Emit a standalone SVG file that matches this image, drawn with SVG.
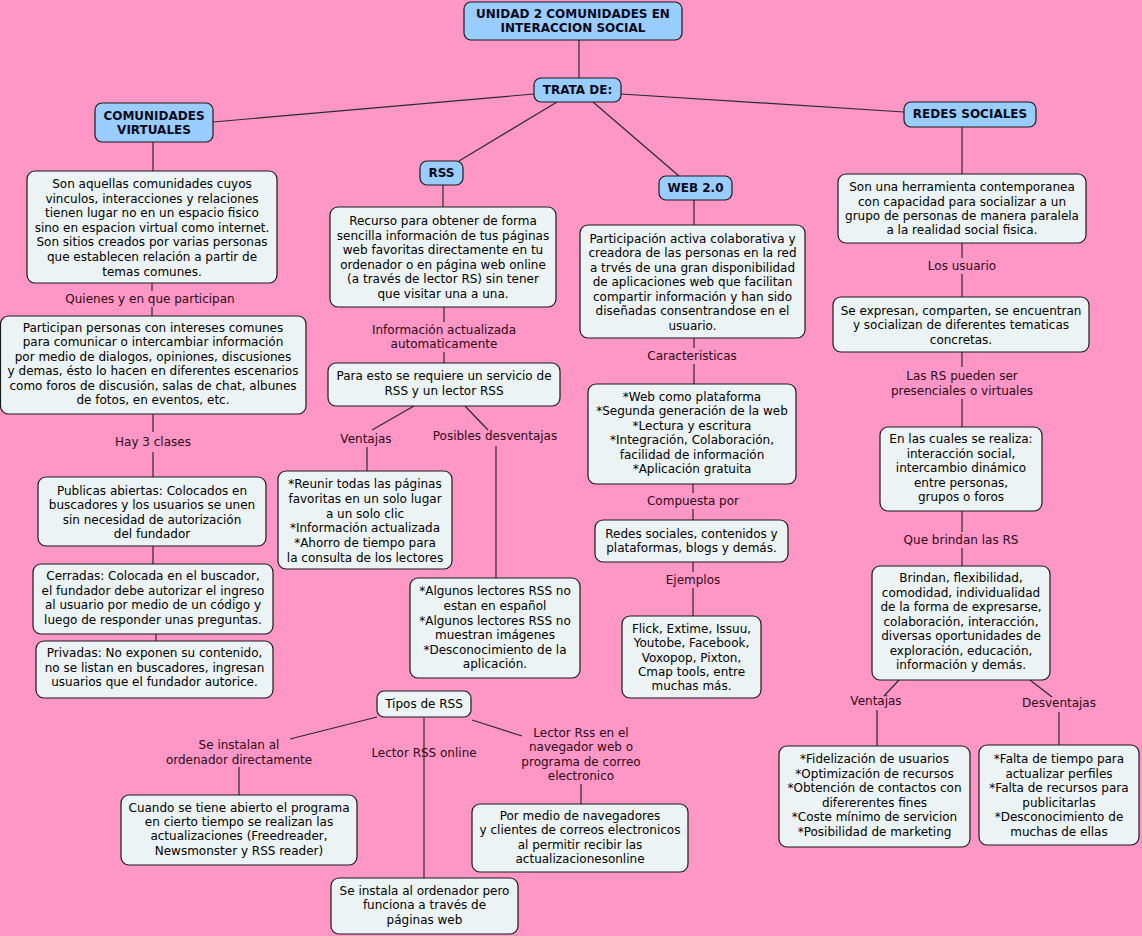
<svg xmlns="http://www.w3.org/2000/svg" width="1142" height="936" viewBox="0 0 1142 936">
<style>
.bg{fill:#fe96c6}
.n{fill:#ecf3f5;stroke:#1a1a1a;stroke-width:1.2}
.b{fill:#99ccff;stroke:#1a1a1a;stroke-width:1.2}
text{font-family:"DejaVu Sans",Verdana,sans-serif;font-size:12px;text-anchor:middle}
.t{fill:#000}
.h{fill:#0a0a1a;font-weight:bold}
.l{fill:#2e0a16}
.c{fill:none;stroke:#2a2a2a;stroke-width:1.2}
</style>
<rect class="bg" x="0" y="0" width="1142" height="936"/>
<g id="connectors">
<path class="c" d="M579 40V78 M534 94L213 122 M621 94L904 112 M557 102L459 161 M593 102L679 176"/>
<path class="c" d="M153 142V171 M152 283V291 M152 307V316 M153 414V432 M153 452V477 M153 546V564 M156 634V641"/>
<path class="c" d="M443 185V207 M444 307V322 M444 352V363 M414 406L372 430 M367 447V471 M465 406L488 430 M496 446V578"/>
<path class="c" d="M377 717L290 739 M239 767V795 M424 718V878 M472 720L522 736 M581 784V804"/>
<path class="c" d="M694 200V225 M694 338V348 M694 364V384 M693 484V493 M693 509V520 M693 562V572 M693 588V616"/>
<path class="c" d="M962 127V174 M962 243V258 M962 274V297 M962 352V367 M962 399V427 M962 511V532 M962 548V566 M899 680L884 696 M877 710V746 M1030 680L1052 697 M1059 712V745"/>
<g id="link-labels">
<text class="l" x="150" y="303">Quienes y en que participan</text>
<text class="l" x="153" y="446">Hay 3 clases</text>
<text class="l" x="444" y="334">Información actualizada</text>
<text class="l" x="444" y="348">automaticamente</text>
<text class="l" x="366" y="443">Ventajas</text>
<text class="l" x="495" y="440">Posibles desventajas</text>
<text class="l" x="239" y="749">Se instalan al</text>
<text class="l" x="239" y="764">ordenador directamente</text>
<text class="l" x="424" y="757">Lector RSS online</text>
<text class="l" x="581" y="737">Lector Rss en el</text>
<text class="l" x="581" y="751">navegador web o</text>
<text class="l" x="581" y="766">programa de correo</text>
<text class="l" x="581" y="780">electronico</text>
<text class="l" x="692" y="360">Caracteristicas</text>
<text class="l" x="693" y="505">Compuesta por</text>
<text class="l" x="693" y="584">Ejemplos</text>
<text class="l" x="962" y="270">Los usuario</text>
<text class="l" x="962" y="380">Las RS pueden ser</text>
<text class="l" x="962" y="395">presenciales o virtuales</text>
<text class="l" x="961" y="544">Que brindan las RS</text>
<text class="l" x="876" y="705">Ventajas</text>
<text class="l" x="1059" y="707">Desventajas</text>
</g>
</g>
<g id="unidad"><rect class="b" x="464" y="2" width="218" height="38" rx="7"/><text class="h" x="573" y="18">UNIDAD 2 COMUNIDADES EN</text><text class="h" x="573" y="32">INTERACCION SOCIAL</text></g>
<g id="trata"><rect class="b" x="534" y="78" width="87" height="24" rx="7"/><text class="h" x="577.5" y="94">TRATA DE:</text></g>
<g id="comunidades"><rect class="b" x="95" y="103" width="118" height="39" rx="7"/><text class="h" x="154" y="120">COMUNIDADES</text><text class="h" x="154" y="134">VIRTUALES</text></g>
<g id="redes"><rect class="b" x="904" y="102" width="132" height="25" rx="7"/><text class="h" x="970" y="118">REDES SOCIALES</text></g>
<g id="rss"><rect class="b" x="420" y="161" width="43" height="24" rx="7"/><text class="h" x="441.5" y="177">RSS</text></g>
<g id="web"><rect class="b" x="659" y="176" width="73" height="24" rx="7"/><text class="h" x="695.5" y="192">WEB 2.0</text></g>

<g id="cv-desc"><rect class="n" x="27" y="171" width="250" height="112" rx="8"/>
<text class="t" x="152"><tspan x="152" y="188">Son aquellas comunidades cuyos</tspan><tspan x="152" y="203">vinculos, interacciones y relaciones</tspan><tspan x="152" y="217">tienen lugar no en un espacio fisico</tspan><tspan x="152" y="232">sino en espacion virtual como internet.</tspan><tspan x="152" y="246">Son sitios creados por varias personas</tspan><tspan x="152" y="261">que establecen relación a partir de</tspan><tspan x="152" y="276">temas comunes.</tspan></text></g>
<g id="participan"><rect class="n" x="0.5" y="316" width="305.5" height="98" rx="8"/>
<text class="t"><tspan x="153" y="332">Participan personas con intereses comunes</tspan><tspan x="153" y="346">para comunicar o intercambiar información</tspan><tspan x="153" y="361">por medio de dialogos, opiniones, discusiones</tspan><tspan x="153" y="375">y demas, ésto lo hacen en diferentes escenarios</tspan><tspan x="153" y="390">como foros de discusión, salas de chat, albunes</tspan><tspan x="153" y="404">de fotos, en eventos, etc.</tspan></text></g>
<g id="publicas"><rect class="n" x="38" y="477" width="228" height="69" rx="8"/>
<text class="t"><tspan x="152" y="495">Publicas abiertas: Colocados en</tspan><tspan x="152" y="509">buscadores y los usuarios se unen</tspan><tspan x="152" y="524">sin necesidad de autorización</tspan><tspan x="152" y="538">del fundador</tspan></text></g>
<g id="cerradas"><rect class="n" x="33" y="564" width="240" height="70" rx="8"/>
<text class="t"><tspan x="153" y="580">Cerradas: Colocada en el buscador,</tspan><tspan x="153" y="595">el fundador debe autorizar el ingreso</tspan><tspan x="153" y="609">al usuario por medio de un código y</tspan><tspan x="153" y="624">luego de responder unas preguntas.</tspan></text></g>
<g id="privadas"><rect class="n" x="36" y="641" width="237" height="57" rx="8"/>
<text class="t"><tspan x="154.5" y="657">Privadas: No exponen su contenido,</tspan><tspan x="154.5" y="672">no se listan en buscadores, ingresan</tspan><tspan x="154.5" y="686">usuarios que el fundador autorice.</tspan></text></g>

<g id="rss-desc"><rect class="n" x="330" y="207" width="226" height="100" rx="8"/>
<text class="t"><tspan x="443" y="225">Recurso para obtener de forma</tspan><tspan x="443" y="240">sencilla información de tus páginas</tspan><tspan x="443" y="254">web favoritas directamente en tu</tspan><tspan x="443" y="269">ordenador o en página web online</tspan><tspan x="443" y="283">(a través de lector RS) sin tener</tspan><tspan x="443" y="298">que visitar una a una.</tspan></text></g>
<g id="para-esto"><rect class="n" x="328" y="363" width="232" height="43" rx="8"/>
<text class="t"><tspan x="444" y="380">Para esto se requiere un servicio de</tspan><tspan x="444" y="395">RSS y un lector RSS</tspan></text></g>
<g id="reunir"><rect class="n" x="278" y="471" width="174" height="98" rx="8"/>
<text class="t"><tspan x="365" y="488">*Reunir todas las páginas</tspan><tspan x="365" y="503">favoritas en un solo lugar</tspan><tspan x="365" y="518">a un solo clic</tspan><tspan x="365" y="532">*Información actualizada</tspan><tspan x="365" y="547">*Ahorro de tiempo para</tspan><tspan x="365" y="562">la consulta de los lectores</tspan></text></g>
<g id="algunos"><rect class="n" x="410" y="578" width="170" height="100" rx="8"/>
<text class="t"><tspan x="495" y="595">*Algunos lectores RSS no</tspan><tspan x="495" y="610">estan en español</tspan><tspan x="495" y="625">*Algunos lectores RSS no</tspan><tspan x="495" y="639">muestran imágenes</tspan><tspan x="495" y="654">*Desconocimiento de la</tspan><tspan x="495" y="668">aplicación.</tspan></text></g>
<g id="tipos"><rect class="n" x="377" y="691" width="94" height="26" rx="7"/><text class="t" x="424" y="708">Tipos de RSS</text></g>
<g id="cuando"><rect class="n" x="121" y="795" width="236" height="70" rx="8"/>
<text class="t"><tspan x="239" y="812">Cuando se tiene abierto el programa</tspan><tspan x="239" y="826">en cierto tiempo se realizan las</tspan><tspan x="239" y="840">actualizaciones (Freedreader,</tspan><tspan x="239" y="855">Newsmonster y RSS reader)</tspan></text></g>
<g id="se-instala"><rect class="n" x="331" y="878" width="187" height="56" rx="8"/>
<text class="t"><tspan x="424.5" y="895">Se instala al ordenador pero</tspan><tspan x="424.5" y="909">funciona a través de</tspan><tspan x="424.5" y="924">páginas web</tspan></text></g>
<g id="por-medio"><rect class="n" x="472" y="804" width="216" height="68" rx="8"/>
<text class="t"><tspan x="580" y="820">Por medio de navegadores</tspan><tspan x="580" y="834">y clientes de correos electronicos</tspan><tspan x="580" y="849">al permitir recibir las</tspan><tspan x="580" y="863">actualizacionesonline</tspan></text></g>

<g id="web-desc"><rect class="n" x="580" y="225" width="225" height="113" rx="8"/>
<text class="t"><tspan x="692.5" y="243">Participación activa colaborativa y</tspan><tspan x="692.5" y="257">creadora de las personas en la red</tspan><tspan x="692.5" y="272">a trvés de una gran disponibilidad</tspan><tspan x="692.5" y="286">de aplicaciones web que facilitan</tspan><tspan x="692.5" y="301">compartir información y han sido</tspan><tspan x="692.5" y="315">diseñadas consentrandose en el</tspan><tspan x="692.5" y="330">usuario.</tspan></text></g>
<g id="web-caract"><rect class="n" x="588" y="384" width="208" height="100" rx="8"/>
<text class="t"><tspan x="692" y="401">*Web como plataforma</tspan><tspan x="692" y="415">*Segunda generación de la web</tspan><tspan x="692" y="430">*Lectura y escritura</tspan><tspan x="692" y="444">*Integración, Colaboración,</tspan><tspan x="692" y="459">facilidad de información</tspan><tspan x="692" y="473">*Aplicación gratuita</tspan></text></g>
<g id="web-compuesta"><rect class="n" x="595" y="520" width="193" height="42" rx="8"/>
<text class="t"><tspan x="691.5" y="538">Redes sociales, contenidos y</tspan><tspan x="691.5" y="552">plataformas, blogs y demás.</tspan></text></g>
<g id="web-ejemplos"><rect class="n" x="622" y="616" width="139" height="82" rx="8"/>
<text class="t"><tspan x="691.5" y="633">Flick, Extime, Issuu,</tspan><tspan x="691.5" y="647">Youtobe, Facebook,</tspan><tspan x="691.5" y="662">Voxopop, Pixton,</tspan><tspan x="691.5" y="676">Cmap tools, entre</tspan><tspan x="691.5" y="690">muchas más.</tspan></text></g>

<g id="rs-desc"><rect class="n" x="838" y="174" width="248" height="69" rx="8"/>
<text class="t"><tspan x="962" y="191">Son una herramienta contemporanea</tspan><tspan x="962" y="206">con capacidad para socializar a un</tspan><tspan x="962" y="220">grupo de personas de manera paralela</tspan><tspan x="962" y="234">a la realidad social fisica.</tspan></text></g>
<g id="rs-expresan"><rect class="n" x="833" y="297" width="256" height="55" rx="8"/>
<text class="t"><tspan x="961" y="315">Se expresan, comparten, se encuentran</tspan><tspan x="961" y="329">y socializan de diferentes tematicas</tspan><tspan x="961" y="344">concretas.</tspan></text></g>
<g id="rs-cuales"><rect class="n" x="880" y="427" width="162" height="84" rx="8"/>
<text class="t"><tspan x="961" y="443">En las cuales se realiza:</tspan><tspan x="961" y="458">interacción social,</tspan><tspan x="961" y="472">intercambio dinámico</tspan><tspan x="961" y="487">entre personas,</tspan><tspan x="961" y="501">grupos o foros</tspan></text></g>
<g id="rs-brindan"><rect class="n" x="872" y="566" width="178" height="114" rx="8"/>
<text class="t"><tspan x="961" y="582">Brindan, flexibilidad,</tspan><tspan x="961" y="597">comodidad, individualidad</tspan><tspan x="961" y="611">de la forma de expresarse,</tspan><tspan x="961" y="626">colaboración, interacción,</tspan><tspan x="961" y="640">diversas oportunidades de</tspan><tspan x="961" y="655">exploración, educación,</tspan><tspan x="961" y="669">información y demás.</tspan></text></g>
<g id="rs-ventajas"><rect class="n" x="779" y="746" width="191" height="101" rx="8"/>
<text class="t"><tspan x="874.5" y="763">*Fidelización de usuarios</tspan><tspan x="874.5" y="778">*Optimización de recursos</tspan><tspan x="874.5" y="792">*Obtención de contactos con</tspan><tspan x="874.5" y="807">difererentes fines</tspan><tspan x="874.5" y="821">*Coste mínimo de servicion</tspan><tspan x="874.5" y="836">*Posibilidad de marketing</tspan></text></g>
<g id="rs-desventajas"><rect class="n" x="979" y="745" width="160" height="100" rx="8"/>
<text class="t"><tspan x="1059" y="763">*Falta de tiempo para</tspan><tspan x="1059" y="778">actualizar perfiles</tspan><tspan x="1059" y="792">*Falta de recursos para</tspan><tspan x="1059" y="807">publicitarlas</tspan><tspan x="1059" y="821">*Desconocimiento de</tspan><tspan x="1059" y="836">muchas de ellas</tspan></text></g>
</svg>
